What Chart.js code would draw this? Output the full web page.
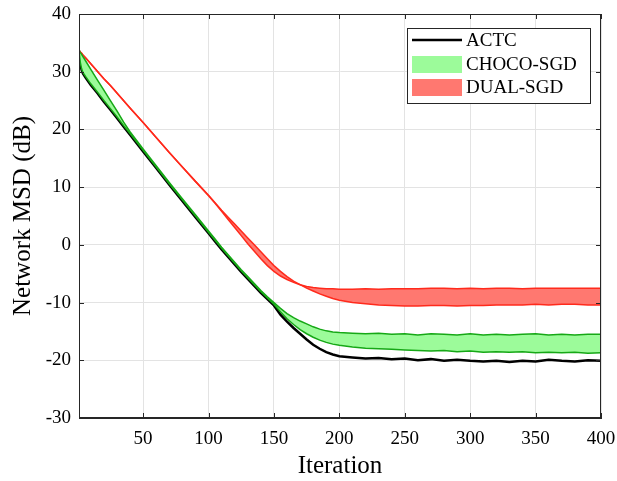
<!DOCTYPE html>
<html>
<head>
<meta charset="utf-8">
<script src="https://cdn.jsdelivr.net/npm/chart.js@4.4.1/dist/chart.umd.min.js"></script>
<style>
  html, body { margin: 0; padding: 0; background: #fff; }
  #msdChart { display: block; }
</style>
</head>
<body>
<canvas id="msdChart" width="617" height="481"></canvas>
<script>
// iteration index of each sample
const iterations = [1, 2, 3, 4, 6, 10, 15, 20, 25, 30, 35, 40, 50, 60, 70, 80, 90, 100,
  105, 110, 115, 120, 125, 130, 135, 140, 145, 150, 155, 160, 165, 170, 175, 180, 185, 190, 195, 200,
  210, 220, 230, 240, 250, 260, 270, 280, 290, 300, 310, 320, 330, 340, 350, 360, 370, 380, 390, 400];

// network MSD in dB
const actc = [33.7, 31.4, 30.3, 29.7, 29.0, 27.7, 26.3, 24.8, 23.4, 22.0, 20.5, 19.1, 16.2, 13.3, 10.4, 7.6, 4.8, 2.0,
  0.6, -0.8, -2.1, -3.4, -4.7, -5.9, -7.1, -8.3, -9.4, -10.5, -12.1, -13.3, -14.4, -15.4, -16.4, -17.3, -18.0, -18.6, -19.0, -19.3,
  -19.5, -19.7, -19.6, -19.8, -19.7, -20.0, -19.8, -20.1, -19.9, -20.1, -20.2, -20.1, -20.3, -20.1, -20.2, -19.9, -20.1, -20.2, -20.0, -20.1];

const chocoUpper = [33.7, 33.3, 33.0, 32.6, 31.9, 30.4, 28.6, 26.8, 25.0, 23.2, 21.3, 19.6, 16.6, 13.7, 10.8, 8.0, 5.2, 2.4,
  1.0, -0.4, -1.7, -3.0, -4.3, -5.5, -6.7, -7.9, -9.0, -10.0, -11.0, -11.9, -12.6, -13.2, -13.7, -14.2, -14.6, -14.9, -15.1, -15.2,
  -15.3, -15.4, -15.3, -15.5, -15.4, -15.6, -15.4, -15.5, -15.6, -15.4, -15.6, -15.5, -15.6, -15.5, -15.4, -15.6, -15.5, -15.6, -15.5, -15.5];

const chocoLower = [33.7, 31.6, 30.5, 29.9, 29.2, 27.9, 26.5, 25.0, 23.6, 22.2, 20.7, 19.3, 16.4, 13.5, 10.6, 7.8, 5.0, 2.2,
  0.8, -0.6, -1.9, -3.2, -4.5, -5.7, -6.9, -8.1, -9.2, -10.3, -11.6, -12.8, -13.8, -14.7, -15.4, -16.0, -16.5, -16.9, -17.2, -17.4,
  -17.7, -17.9, -18.0, -18.1, -18.2, -18.3, -18.4, -18.3, -18.5, -18.4, -18.6, -18.5, -18.6, -18.5, -18.7, -18.6, -18.7, -18.6, -18.8, -18.7];

const dualUpper = [33.7, 33.4, 33.2, 32.9, 32.4, 31.4, 30.1, 28.8, 27.6, 26.3, 25.0, 23.7, 21.2, 18.6, 16.0, 13.5, 11.0, 8.5,
  7.2, 5.8, 4.4, 3.0, 1.6, 0.2, -1.1, -2.4, -3.6, -4.6, -5.4, -6.0, -6.5, -6.9, -7.2, -7.4, -7.5, -7.6, -7.6, -7.7,
  -7.7, -7.6, -7.7, -7.6, -7.6, -7.6, -7.5, -7.5, -7.6, -7.5, -7.6, -7.5, -7.5, -7.6, -7.5, -7.5, -7.5, -7.5, -7.5, -7.5];

const dualLower = [33.7, 33.4, 33.2, 32.9, 32.4, 31.4, 30.1, 28.8, 27.6, 26.3, 25.0, 23.7, 21.2, 18.6, 16.0, 13.5, 11.0, 8.6,
  7.3, 6.0, 4.8, 3.6, 2.4, 1.2, 0.0, -1.2, -2.4, -3.6, -4.6, -5.5, -6.3, -6.9, -7.5, -8.0, -8.5, -8.9, -9.3, -9.6,
  -10.0, -10.2, -10.4, -10.5, -10.6, -10.6, -10.5, -10.5, -10.6, -10.5, -10.5, -10.4, -10.4, -10.4, -10.3, -10.4, -10.3, -10.3, -10.4, -10.4];

const xTicks = [50, 100, 150, 200, 250, 300, 350, 400];
const yTicks = [-30, -20, -10, 0, 10, 20, 30, 40];
const seriesNames = ["ACTC", "CHOCO-SGD", "DUAL-SGD"];

const FONT = "'Liberation Serif', 'Times New Roman', serif";
const AXIS_COLOR = "#262626";
const GREEN = "#16a816";
const GREEN_FILL = "#9cfb9a";
const RED = "#ff2a1c";
const RED_FILL = "#ff7870";

function pts(values) {
  return iterations.map((x, i) => ({ x: x, y: values[i] }));
}

// box round the axes, inward ticks on all sides, and the legend
const framePlugin = {
  id: "frame",
  afterDatasetsDraw(chart) {
    const ctx = chart.ctx;
    const a = chart.chartArea;
    const xs = chart.scales.x;
    const ys = chart.scales.y;
    ctx.save();
    ctx.strokeStyle = AXIS_COLOR;
    ctx.lineWidth = 1;
    ctx.strokeRect(a.left + 0.5, a.top + 0.5, a.right - a.left - 1, a.bottom - a.top - 1);
    ctx.beginPath();
    xTicks.forEach((v) => {
      const px = Math.round(xs.getPixelForValue(v)) + 0.5;
      ctx.moveTo(px, a.bottom); ctx.lineTo(px, a.bottom - 5);
      ctx.moveTo(px, a.top); ctx.lineTo(px, a.top + 5);
    });
    yTicks.forEach((v) => {
      const py = Math.round(ys.getPixelForValue(v)) + 0.5;
      ctx.moveTo(a.left, py); ctx.lineTo(a.left + 5, py);
      ctx.moveTo(a.right, py); ctx.lineTo(a.right - 5, py);
    });
    ctx.stroke();

    // legend
    const boxW = 183, boxH = 75;
    const bx = a.right - 11 - boxW, by = a.top + 14;
    ctx.fillStyle = "#fff";
    ctx.fillRect(bx, by, boxW, boxH);
    ctx.strokeStyle = AXIS_COLOR;
    ctx.strokeRect(bx + 0.5, by + 0.5, boxW, boxH);
    ctx.font = "19px " + FONT;
    ctx.textBaseline = "middle";
    ctx.textAlign = "left";
    const rowY = [by + 12, by + 36, by + 59];
    // ACTC line sample
    ctx.strokeStyle = "#000";
    ctx.lineWidth = 2.5;
    ctx.beginPath(); ctx.moveTo(bx + 5, rowY[0]); ctx.lineTo(bx + 55, rowY[0]); ctx.stroke();
    ctx.fillStyle = GREEN_FILL;
    ctx.fillRect(bx + 5, rowY[1] - 8, 50, 17);
    ctx.fillStyle = RED_FILL;
    ctx.fillRect(bx + 5, rowY[2] - 8, 50, 17);
    ctx.fillStyle = "#000";
    seriesNames.forEach((name, i) => ctx.fillText(name, bx + 59, rowY[i] + 1));
    ctx.restore();
  }
};

new Chart(document.getElementById("msdChart"), {
  type: "line",
  data: {
    datasets: [
      { label: "CHOCO-SGD upper", data: pts(chocoUpper), borderColor: GREEN, borderWidth: 1.5, fill: false },
      { label: "CHOCO-SGD", data: pts(chocoLower), borderColor: GREEN, borderWidth: 1.5, backgroundColor: GREEN_FILL, fill: "-1" },
      { label: "DUAL-SGD upper", data: pts(dualUpper), borderColor: RED, borderWidth: 1.5, fill: false },
      { label: "DUAL-SGD", data: pts(dualLower), borderColor: RED, borderWidth: 1.5, backgroundColor: RED_FILL, fill: "-1" },
      { label: "ACTC", data: pts(actc), borderColor: "#000", borderWidth: 2.5, fill: false }
    ]
  },
  options: {
    responsive: false,
    animation: false,
    events: [],
    elements: { point: { radius: 0 }, line: { tension: 0 } },
    layout: { padding: { top: 14, right: 16, left: 0, bottom: 0 } },
    plugins: {
      legend: { display: false },
      tooltip: { enabled: false }
    },
    scales: {
      x: {
        type: "linear",
        min: 1,
        max: 400,
        afterBuildTicks: (s) => { s.ticks = xTicks.map((v) => ({ value: v })); },
        afterFit: (s) => { s.height = 63; s.paddingLeft = 0; s.paddingRight = 0; },
        grid: { color: "#e3e3e3", drawTicks: false },
        border: { color: AXIS_COLOR },
        ticks: { padding: 10, color: "#000", maxRotation: 0, font: { family: FONT, size: 19 } },
        title: { display: true, text: "Iteration", color: "#000", padding: { top: 0, bottom: 0 }, font: { family: FONT, size: 25 } }
      },
      y: {
        min: -30,
        max: 40,
        afterBuildTicks: (s) => { s.ticks = yTicks.map((v) => ({ value: v })); },
        afterFit: (s) => { s.width = 79; s.paddingTop = 0; s.paddingBottom = 0; },
        grid: { color: "#e3e3e3", drawTicks: false },
        border: { color: AXIS_COLOR },
        ticks: { padding: 8, color: "#000", font: { family: FONT, size: 19 } },
        title: { display: true, text: "Network MSD (dB)", color: "#000", padding: { top: 8, bottom: 0 }, font: { family: FONT, size: 25 } }
      }
    }
  },
  plugins: [framePlugin]
});
</script>
</body>
</html>
